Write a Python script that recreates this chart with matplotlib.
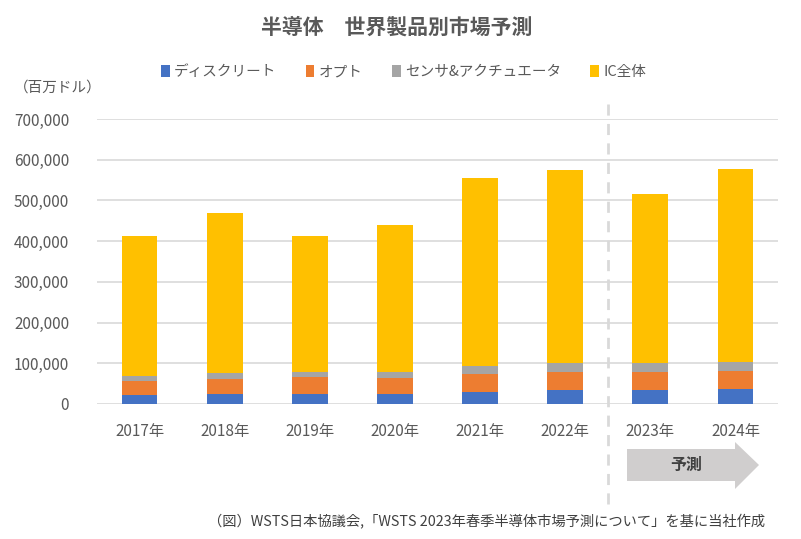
import numpy as np
import matplotlib.pyplot as plt
from matplotlib.patches import Polygon

plt.rcParams['font.family'] = ['Noto Sans CJK JP', 'DejaVu Sans']

# data (million USD)
years = ["2017年", "2018年", "2019年", "2020年", "2021年", "2022年", "2023年", "2024年"]
discrete = [21600, 24100, 23900, 23800, 30300, 34100, 34500, 36500]
opto = [34800, 38000, 41600, 40400, 43400, 43900, 44000, 44500]
sensors = [12600, 13400, 13500, 15000, 19100, 21800, 22000, 23000]
ic = [343200, 393300, 333200, 361200, 463000, 474400, 414600, 472000]
series_names = ["ディスクリート", "オプト", "センサ&アクチュエータ", "IC全体"]
colors = ["#4472c4", "#ed7d31", "#a5a5a5", "#ffc000"]

W, H = 801, 539
fig = plt.figure(figsize=(W / 100, H / 100), dpi=100)
ax = fig.add_axes([97 / W, 1 - 404 / H, 681 / W, 285 / H])

x = np.arange(len(years))
bottom = np.zeros(len(years))
for name, vals, c in zip(series_names, [discrete, opto, sensors, ic], colors):
    ax.bar(x, vals, width=0.42, bottom=bottom, color=c, label=name, zorder=3)
    bottom += np.array(vals)

ax.set_xlim(-0.5, len(years) - 0.5)
ax.set_ylim(0, 700000)
ax.set_yticks(np.arange(0, 700001, 100000))
ax.set_yticklabels([f"{v:,}" for v in range(0, 700001, 100000)])
ax.set_xticks(x)
ax.set_xticklabels(years)
ax.yaxis.grid(True, color="#d9d9d9", lw=1.2, zorder=0)
for s in ax.spines.values():
    s.set_visible(False)
ax.tick_params(length=0, colors="#595959", labelsize=11)
ax.tick_params(axis="y", pad=20)
ax.tick_params(axis="x", pad=14)

# forecast divider
ax.axvline(5.5, ymin=-0.35, ymax=1.075, color="#d9d9d9", lw=2, ls=(0, (4, 3)),
           clip_on=False, zorder=1)

# forecast arrow (pixel coords -> figure fraction)
pts = [(627, 449), (735, 449), (735, 442), (759, 465), (735, 489), (735, 481), (627, 481)]
arrow = Polygon([(px / W, 1 - py / H) for px, py in pts], closed=True,
                transform=fig.transFigure, color="#d0cece", lw=0)
fig.patches.append(arrow)
fig.text(686 / W, 1 - 465 / H, "予測", ha="center", va="center",
         fontsize=11.5, fontweight="bold", color="#404040")

fig.text(0.495, 1 - 27 / H, "半導体　世界製品別市場予測", ha="center", va="center",
         fontsize=15, fontweight="bold", color="#595959")
fig.text(14 / W, 1 - 88 / H, "（百万ドル）", ha="left", va="center",
         fontsize=10.5, color="#595959")
fig.legend(loc="center", bbox_to_anchor=(0.504, 1 - 72 / H), ncol=4, frameon=False,
           fontsize=10.5, handlelength=0.6, handleheight=0.9, handletextpad=0.3,
           columnspacing=2.0, labelcolor="#595959")
fig.text(765 / W, 1 - 522 / H,
         "（図）WSTS日本協議会,「WSTS 2023年春季半導体市場予測について」を基に当社作成",
         ha="right", va="center", fontsize=10.3, color="#404040")

plt.savefig("out.png", dpi=100)
plt.close("all")
